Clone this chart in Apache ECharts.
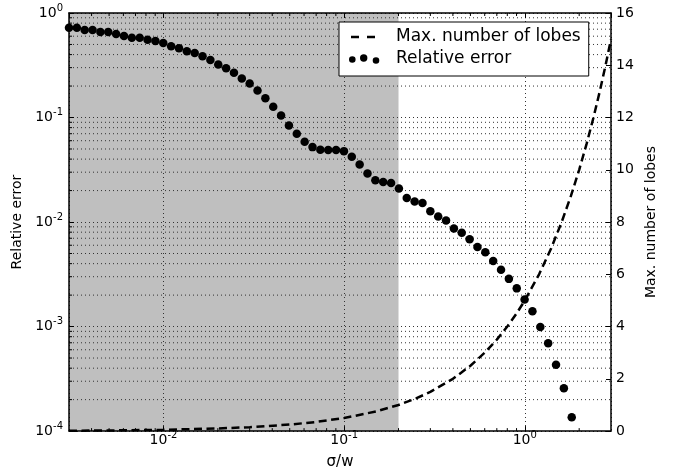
<!DOCTYPE html>
<html>
<head>
<meta charset="utf-8">
<script src="https://cdn.jsdelivr.net/npm/echarts@6/dist/echarts.min.js"></script>
<style>html,body{margin:0;padding:0;background:#fff}#c{width:675px;height:475px}</style>
</head>
<body>
<div id="c"></div>
<script>
// sigma/w sample positions of the scatter points (log-spaced)
const sigmaW = [
  0.0030000, 0.0033159, 0.0036650, 0.0040509, 0.0044775, 0.0049489, 0.0054700, 0.0060460,
  0.0066826, 0.0073863, 0.0081640, 0.0090236, 0.0099738, 0.011024, 0.012185, 0.013468,
  0.014886, 0.016453, 0.018186, 0.020101, 0.022217, 0.024556, 0.027142, 0.030000,
  0.033159, 0.036650, 0.040509, 0.044775, 0.049489, 0.054700, 0.060460, 0.066826,
  0.073863, 0.081640, 0.090236, 0.099738, 0.11024, 0.12185, 0.13468, 0.14886,
  0.16453, 0.18186, 0.20101, 0.22217, 0.24556, 0.27142, 0.30000, 0.33159,
  0.36650, 0.40509, 0.44775, 0.49489, 0.54700, 0.60460, 0.66826, 0.73863,
  0.81640, 0.90236, 0.99738, 1.1024, 1.2185, 1.3468, 1.4886, 1.6453, 1.8186
];
// relative error
const relError = [
  0.724, 0.724, 0.688, 0.688, 0.659, 0.659, 0.630, 0.603,
  0.581, 0.581, 0.556, 0.540, 0.517, 0.480, 0.459, 0.430,
  0.415, 0.385, 0.356, 0.321, 0.296, 0.2675, 0.236, 0.2114,
  0.1813, 0.1530, 0.1267, 0.1046, 0.0839, 0.0700, 0.0587, 0.0521,
  0.0492, 0.0488, 0.0488, 0.0477, 0.0422, 0.0356, 0.0292, 0.0251,
  0.0241, 0.0236, 0.0209, 0.0170, 0.0157, 0.0152, 0.01268, 0.01128,
  0.01033, 0.00867, 0.00790, 0.00685, 0.00578, 0.00515, 0.00425, 0.00349,
  0.00286, 0.00232, 0.00182, 0.00140, 0.00099, 0.000692, 0.000432, 0.000257, 0.000136
];
// max. number of lobes curve (right axis)
const lobesX = [0.003, 0.005, 0.01, 0.02, 0.03, 0.05, 0.07, 0.1, 0.15, 0.2, 0.25, 0.3, 0.4, 0.5,
  0.6, 0.7, 0.8, 0.9, 1.0, 1.2, 1.4, 1.6, 1.8, 2.0, 2.2, 2.4, 2.6, 2.8, 3.0];
const lobesY = [0.015, 0.025, 0.05, 0.1, 0.15, 0.25, 0.35, 0.5, 0.75, 1.0, 1.25, 1.5, 2.0, 2.5,
  3.0, 3.5, 4.0, 4.5, 5.0, 6.0, 7.0, 8.0, 9.0, 10.0, 11.0, 12.0, 13.0, 14.0, 15.0];

const xRange = [0.003, 3];
const yErrRange = [1e-4, 1];
const yLobeRange = [0, 16];
const shadeRange = [0.003, 0.2];
const yMajorExp = [-4, -3, -2, -1, 0];
const minorMult = [2, 3, 4, 5, 6, 7, 8, 9];

const yMinor = [];
yMajorExp.slice(0, -1).forEach(e => minorMult.forEach(m => yMinor.push(m * Math.pow(10, e))));
const xMinor = [];
[-3, -2, -1, 0].forEach(e => minorMult.forEach(m => {
  const v = m * Math.pow(10, e);
  if (v > xRange[0] * 1.0001 && v < xRange[1] * 0.9999) xMinor.push(v);
}));

const FONT = 'DejaVu Sans';
const rich = {
  b: { fontSize: 14, fontFamily: FONT, color: '#000', lineHeight: 14 },
  s: { fontSize: 10, fontFamily: FONT, color: '#000', lineHeight: 10, padding: [0, 0, 10, 0] }
};
function powLabel(v) {
  const e = Math.log10(v);
  const r = Math.round(e);
  if (Math.abs(e - r) > 1e-6) return '';
  return '{b|10}{s|' + r + '}';
}

const GRID_COLOR = '#333';
const GRID_DASH = [1, 3];
const gridDot = { color: GRID_COLOR, width: 1, type: GRID_DASH };

const chart = echarts.init(document.getElementById('c'), null, { renderer: 'canvas' });
chart.setOption({
  animation: false,
  backgroundColor: '#fff',
  grid: { left: 69, right: 64, top: 13, bottom: 43, show: false },
  legend: {
    orient: 'vertical', left: 339, top: 22,
    padding: [5, 8, 7, 10], itemGap: 2,
    itemWidth: 42, itemHeight: 11,
    backgroundColor: '#fff', borderColor: '#000', borderWidth: 1, borderRadius: 0,
    z: 10,
    itemStyle: { color: '#000', borderWidth: 0, opacity: 1 },
    textStyle: { fontSize: 17, fontFamily: FONT, color: '#000', lineHeight: 20 },
    data: [
      { name: 'Max. number of lobes', icon: 'path://M0,0M42,11M2,4.3h8v2.5h-8zM18,4.3h8v2.5h-8z' },
      { name: 'Relative error', icon: 'path://M0,0M42,11M0,6a3.3,3.3 0 1,0 6.6,0a3.3,3.3 0 1,0 -6.6,0zM11,4.5a3.7,3.7 0 1,0 7.4,0a3.7,3.7 0 1,0 -7.4,0zM23.7,7a3.3,3.3 0 1,0 6.6,0a3.3,3.3 0 1,0 -6.6,0z' }
    ]
  },
  xAxis: [
    {
      type: 'log', logBase: 10, min: xRange[0], max: xRange[1], position: 'bottom', z: 2,
      name: 'σ/w', nameLocation: 'middle', nameGap: 22,
      nameTextStyle: { fontSize: 15, fontFamily: FONT, color: '#000' },
      axisLine: { show: true, lineStyle: { color: '#000', width: 1.5 } },
      axisTick: { show: true, inside: true, length: 5, lineStyle: { color: '#000', width: 1 } },
      axisLabel: { formatter: powLabel, rich: rich, margin: 2, showMinLabel: false, showMaxLabel: false },
      splitLine: { show: true, lineStyle: gridDot },
      minorTick: { show: false }
    },
    {
      type: 'log', logBase: 10, min: xRange[0], max: xRange[1], position: 'top', z: 2,
      axisLine: { show: true, lineStyle: { color: '#000', width: 1.5 } },
      axisTick: { show: true, inside: true, length: 5, lineStyle: { color: '#000', width: 1 } },
      axisLabel: { show: false },
      splitLine: { show: false }
    }
  ],
  yAxis: [
    {
      type: 'log', logBase: 10, min: yErrRange[0], max: yErrRange[1], position: 'left', z: 2,
      name: 'Relative error', nameLocation: 'middle', nameRotate: 90, nameGap: 40,
      nameTextStyle: { fontSize: 14, fontFamily: FONT, color: '#000' },
      axisLine: { show: true, lineStyle: { color: '#000', width: 1.5 } },
      axisTick: { show: true, inside: true, length: 5, lineStyle: { color: '#000', width: 1 } },
      axisLabel: { formatter: powLabel, rich: rich, margin: 6 },
      splitLine: { show: true, lineStyle: gridDot }
    },
    {
      type: 'value', min: yLobeRange[0], max: yLobeRange[1], interval: 2, position: 'right', z: 2,
      name: 'Max. number of lobes', nameLocation: 'middle', nameRotate: 90, nameGap: 28,
      nameTextStyle: { fontSize: 14, fontFamily: FONT, color: '#000' },
      axisLine: { show: true, lineStyle: { color: '#000', width: 1.5 } },
      axisTick: { show: true, inside: true, length: 5, lineStyle: { color: '#000', width: 1 } },
      axisLabel: { fontSize: 14, fontFamily: FONT, color: '#000', margin: 5 },
      splitLine: { show: false }
    }
  ],
  series: [
    {
      name: 'shade', type: 'line', data: [], z: 1, silent: true,
      markArea: {
        silent: true,
        itemStyle: { color: '#bfbfbf', opacity: 1 },
        data: [[{ xAxis: shadeRange[0] }, { xAxis: shadeRange[1] }]]
      }
    },
    {
      name: 'yMinor', type: 'custom', z: 2, silent: true,
      data: yMinor.map(v => [1, v]),
      renderItem: function (params, api) {
        const cs = params.coordSys;
        const y = api.coord([1, api.value(1)])[1];
        return {
          type: 'group', children: [
            { type: 'line', shape: { x1: cs.x, y1: y, x2: cs.x + cs.width, y2: y },
              style: { stroke: GRID_COLOR, lineWidth: 1, lineDash: GRID_DASH } },
            { type: 'line', shape: { x1: cs.x, y1: y, x2: cs.x + 3, y2: y },
              style: { stroke: '#000', lineWidth: 1 } }
          ]
        };
      }
    },
    {
      name: 'xMinor', type: 'custom', z: 2, silent: true,
      data: xMinor.map(v => [v, 0.01]),
      renderItem: function (params, api) {
        const cs = params.coordSys;
        const x = api.coord([api.value(0), 0.01])[0];
        return {
          type: 'group', children: [
            { type: 'line', shape: { x1: x, y1: cs.y + cs.height, x2: x, y2: cs.y + cs.height - 3 },
              style: { stroke: '#000', lineWidth: 1 } },
            { type: 'line', shape: { x1: x, y1: cs.y, x2: x, y2: cs.y + 3 },
              style: { stroke: '#000', lineWidth: 1 } }
          ]
        };
      }
    },
    {
      name: 'Max. number of lobes', type: 'line', xAxisIndex: 0, yAxisIndex: 1, z: 4,
      data: lobesX.map((x, i) => [x, lobesY[i]]),
      showSymbol: false, symbol: 'none',
      color: '#000',
      lineStyle: { color: '#000', width: 2.5, type: [8, 4.5], opacity: 1 }
    },
    {
      name: 'Relative error', type: 'scatter', xAxisIndex: 0, yAxisIndex: 0, z: 5,
      data: sigmaW.map((x, i) => [x, relError[i]]),
      symbol: 'circle', symbolSize: 8.5,
      color: '#000',
      itemStyle: { color: '#000', opacity: 1 }
    }
  ]
});
</script>
</body>
</html>
